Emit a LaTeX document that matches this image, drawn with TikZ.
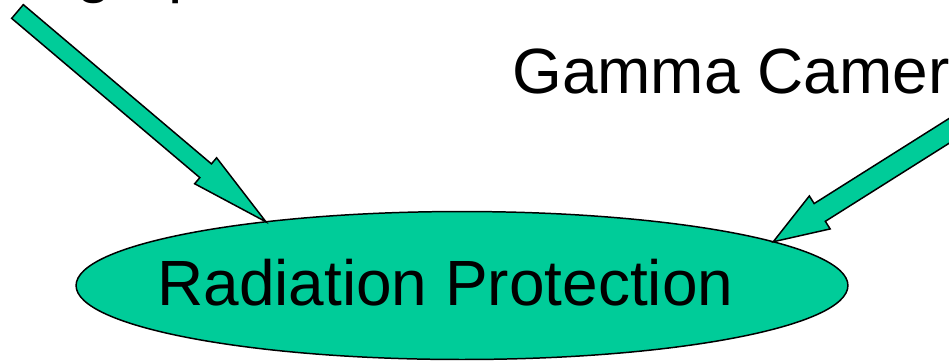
\documentclass[tikz,border=0pt]{standalone}
\usepackage{fontspec}
\setmainfont{Liberation Sans}
\usetikzlibrary{positioning,calc,shapes.geometric}
\definecolor{seagreen}{HTML}{00CC99}

% tail, tip, shaft half width, head half width, head length
\newcommand{\blockarrow}[5]{%
  \coordinate (#2h) at ($(#2)!#5!(#1)$);
  \filldraw[blockpath] ($(#1)!#3!90:(#2)$) -- ($(#2h)!#3!90:(#2)$) -- ($(#2h)!#4!90:(#2)$)
    -- (#2) -- ($(#2h)!#4!-90:(#2)$) -- ($(#2h)!#3!-90:(#2)$) -- ($(#1)!#3!-90:(#2)$) -- cycle;
}

\begin{document}
\begin{tikzpicture}[x=0.02cm, y=-0.02cm,
    bigtext/.style={inner sep=0pt, anchor=base west, font=\fontsize{36.4}{44}\selectfont},
    oval/.style={ellipse, draw=black, fill=seagreen, line width=0.85pt, inner sep=0pt, outer sep=0pt,
                 minimum width=15.44cm, minimum height=2.96cm},
    blockpath/.style={draw=black, fill=seagreen, line width=0.85pt}]

        \useasboundingbox (0,0) rectangle (949,360);
        \clip (0,0) rectangle (949,360);

        \node[oval] (prot) at (462,285.5) {};
        \node[bigtext] (protText) at (157,305) {Radiation Protection};

        \node[bigtext] (radio) at (-91,-10) {Radiograph};
        \node[bigtext] (gamma) at (512,93) {Gamma Camera};

        \coordinate (radioTail) at (17.5,11.5);
        \coordinate (gammaTail) at (1021,85.5);
        \coordinate (radioTip) at (prot.162.7);
        \coordinate (gammaTip) at (prot.8.6);

        \blockarrow{radioTail}{radioTip}{0.18cm}{0.34cm}{1.58cm}
        \blockarrow{gammaTail}{gammaTip}{0.21cm}{0.39cm}{1.1cm}

        \end{tikzpicture}
\end{document}
